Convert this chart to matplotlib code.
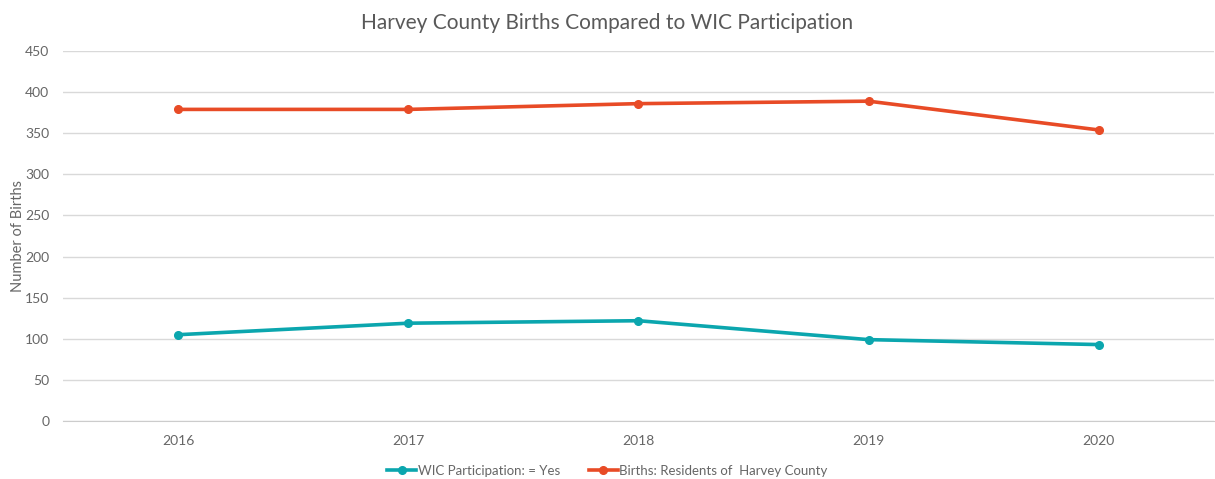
import matplotlib.pyplot as plt

plt.rcParams['font.family'] = ['Lato', 'DejaVu Sans']

years = ['2016', '2017', '2018', '2019', '2020']
wic_yes = [105, 119, 122, 99, 93]
births = [379, 379, 386, 389, 354]

fig = plt.figure(figsize=(12.15, 4.79), dpi=100)
ax = fig.add_axes([0.052, 0.121, 0.947, 0.7725])

x = range(len(years))
ax.plot(x, wic_yes, color='#0BA6AE', lw=2.6, marker='o', ms=5.5,
        label='WIC Participation: = Yes')
ax.plot(x, births, color='#E84B26', lw=2.6, marker='o', ms=5.5,
        label='Births: Residents of  Harvey County')

ax.set_xlim(-0.5, len(years) - 0.5)
ax.set_ylim(0, 450)
ax.set_yticks(range(0, 451, 50))
ax.set_xticks(list(x))
ax.set_xticklabels(years)
ax.grid(axis='y', color='#d9d9d9', lw=1)
ax.set_axisbelow(True)
for s in ['top', 'right', 'left']:
    ax.spines[s].set_visible(False)
ax.spines['bottom'].set_color('#cccccc')
ax.tick_params(axis='y', length=0, labelsize=10, labelcolor='#666666', pad=10)
ax.tick_params(axis='x', length=0, labelsize=10, labelcolor='#666666', pad=10)
ax.set_ylabel('Number of Births', fontsize=10.5, color='#666666', labelpad=0)

fig.suptitle('Harvey County Births Compared to WIC Participation',
             fontsize=15, color='#595959', y=0.972)
fig.legend(loc='lower center', bbox_to_anchor=(0.5, -0.02), ncol=2,
           frameon=False, fontsize=9.5, labelcolor='#666666',
           handlelength=2.2, columnspacing=2.2, handletextpad=0.1)

fig.savefig('out.png', dpi=100)
